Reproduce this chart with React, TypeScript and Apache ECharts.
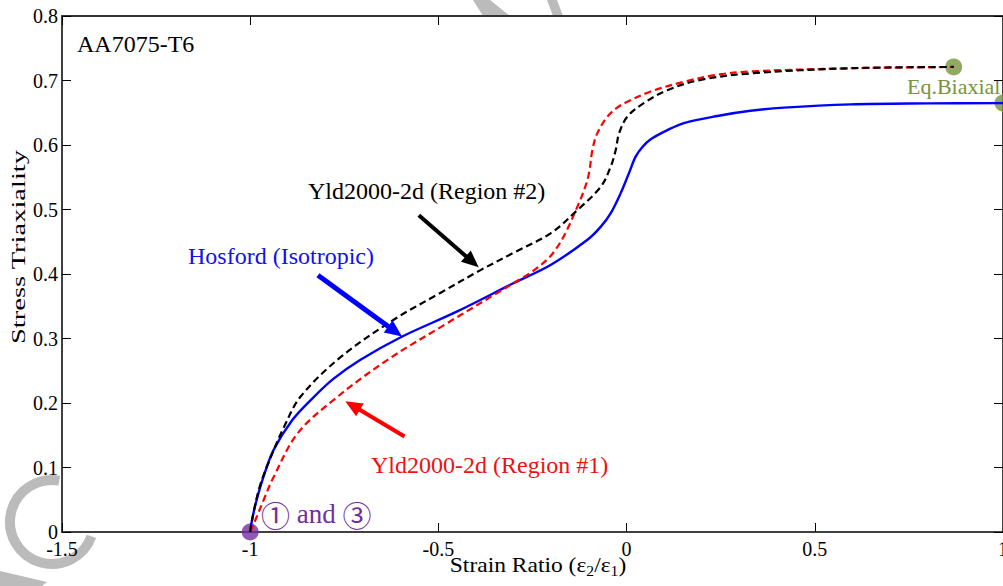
import React, { useEffect, useRef } from "react";
import * as echarts from "echarts";

const xTicks = { min: -1.5, max: 1, interval: 0.5 };
const yTicks = { min: 0, max: 0.8, interval: 0.1 };

const hosfordX = [-1, -0.995, -0.985, -0.965, -0.938, -0.89, -0.84, -0.78, -0.707, -0.6, -0.45, -0.3, -0.202, -0.104, -0.069, -0.0425, -0.016, 0.006, 0.024, 0.042, 0.064, 0.108, 0.152, 0.241, 0.329, 0.418, 0.595, 0.8, 1.0];
const hosfordY = [0, 0.019, 0.045, 0.085, 0.127, 0.172, 0.204, 0.237, 0.267, 0.302, 0.342, 0.386, 0.414, 0.453, 0.473, 0.494, 0.525, 0.556, 0.582, 0.597, 0.609, 0.623, 0.634, 0.645, 0.653, 0.658, 0.663, 0.6645, 0.665];

const region2X = [-1, -0.995, -0.975, -0.946, -0.91, -0.866, -0.76, -0.619, -0.494, -0.388, -0.3, -0.202, -0.131, -0.069, -0.0425, -0.029, -0.02, 0.002, 0.046, 0.108, 0.197, 0.329, 0.595, 0.869];
const region2Y = [0, 0.019, 0.07, 0.115, 0.163, 0.21, 0.271, 0.329, 0.371, 0.406, 0.433, 0.463, 0.499, 0.535, 0.566, 0.592, 0.618, 0.644, 0.665, 0.685, 0.701, 0.711, 0.719, 0.721];

const region1X = [-1, -0.986, -0.964, -0.938, -0.874, -0.778, -0.635, -0.476, -0.3, -0.255, -0.21, -0.186, -0.162, -0.131, -0.113, -0.1, -0.091, -0.078, -0.051, -0.025, 0.002, 0.064, 0.152, 0.241, 0.329, 0.595, 0.869];
const region1Y = [0, 0.019, 0.05, 0.085, 0.153, 0.205, 0.267, 0.324, 0.386, 0.402, 0.423, 0.44, 0.464, 0.504, 0.53, 0.556, 0.592, 0.618, 0.644, 0.658, 0.667, 0.683, 0.698, 0.709, 0.714, 0.719, 0.721];

const startPoint = [-1, 0];
const biaxialPoints = [
  [0.869, 0.721],
  [1.0, 0.665],
];

const FONT = "'Liberation Serif', 'Times New Roman', serif";

const zip = (xs: number[], ys: number[]) => xs.map((x, i) => [x, ys[i]]);

export default function App() {
  const ref = useRef<HTMLDivElement>(null);
  useEffect(() => {
    if (!ref.current) return;
    const chart = echarts.init(ref.current, null, { renderer: "svg" });
    const axisLine = { show: true, onZero: false, lineStyle: { color: "#000", width: 1.5 } };
    const topLine = { show: true, onZero: false, lineStyle: { color: "#333", width: 2 } };
    const tick = { show: true, inside: true, length: 9, lineStyle: { color: "#000", width: 1 } };
    const gray = "#BBBBBB";
    const arrowLine = (color: string, width: number, from: number[], to: number[]) => ({
      silent: true,
      symbol: ["none", "triangle"],
      symbolSize: [15, 17],
      label: { show: false },
      emphasis: { disabled: true },
      lineStyle: { color, width, type: "solid" },
      data: [[{ coord: from }, { coord: to }]],
    });
    chart.setOption({
      animation: false,
      backgroundColor: "#fff",
      grid: { left: 62, right: 0, top: 16, bottom: 54, containLabel: false, outerBoundsMode: "none" },
      xAxis: [
        {
          type: "value",
          ...xTicks,
          position: "bottom",
          axisLine,
          axisTick: tick,
          splitLine: { show: false },
          axisLabel: { color: "#000", fontFamily: FONT, fontSize: 20, margin: 7 },
        },
        {
          type: "value",
          ...xTicks,
          position: "top",
          axisLine: topLine,
          axisTick: tick,
          splitLine: { show: false },
          axisLabel: { show: false },
        },
      ],
      yAxis: [
        {
          type: "value",
          ...yTicks,
          position: "left",
          axisLine,
          axisTick: tick,
          splitLine: { show: false },
          axisLabel: { color: "#000", fontFamily: FONT, fontSize: 20, margin: 4 },
        },
        {
          type: "value",
          ...yTicks,
          position: "right",
          axisLine,
          axisTick: tick,
          splitLine: { show: false },
          axisLabel: { show: false },
        },
      ],
      series: [
        {
          name: "Hosford (Isotropic)",
          type: "line",
          data: zip(hosfordX, hosfordY),
          smooth: 0.35,
          showSymbol: false,
          lineStyle: { color: "#0000FF", width: 2.4 },
          markLine: arrowLine("#0000FF", 5, [-0.82, 0.398], [-0.615, 0.311]),
        },
        {
          name: "Yld2000-2d (Region #1)",
          type: "line",
          data: zip(region1X, region1Y),
          smooth: 0.35,
          showSymbol: false,
          lineStyle: { color: "#FF0000", width: 2.2, type: [7, 4] },
          markLine: arrowLine("#FF0000", 4, [-0.59, 0.148], [-0.728, 0.196]),
        },
        {
          name: "Yld2000-2d (Region #2)",
          type: "line",
          data: zip(region2X, region2Y),
          smooth: 0.35,
          showSymbol: false,
          lineStyle: { color: "#000000", width: 2.2, type: [7, 4] },
          markLine: arrowLine("#000000", 4, [-0.552, 0.491], [-0.41, 0.419]),
        },
        {
          name: "start",
          type: "scatter",
          data: [startPoint],
          symbolSize: 17,
          clip: false,
          itemStyle: { color: "#7030A0" },
        },
        {
          name: "biaxial",
          type: "scatter",
          data: biaxialPoints,
          symbolSize: 17,
          clip: false,
          itemStyle: { color: "#77933C" },
        },
      ],
      graphic: [
        {
          type: "arc",
          z: -1,
          shape: { cx: 52, cy: 522, r: 42, startAngle: (20 * Math.PI) / 180, endAngle: (280 * Math.PI) / 180 },
          style: { stroke: gray, lineWidth: 10, fill: "none" },
        },
        {
          type: "polygon",
          z: -1,
          shape: { points: [[0, 571], [47, 582], [42, 586], [0, 586]] },
          style: { fill: gray },
        },
        {
          type: "polygon",
          z: -1,
          shape: { points: [[473, 0], [490, 0], [510, 16], [483, 16]] },
          style: { fill: gray },
        },
        {
          type: "polygon",
          z: -1,
          shape: { points: [[547, 0], [557, 0], [563, 16], [553, 16]] },
          style: { fill: gray },
        },
        {
          type: "text",
          x: 18,
          y: 247,
          rotation: Math.PI / 2,
          scaleX: 1.5,
          style: { text: "Stress Triaxiality", fontFamily: FONT, fontSize: 19, fill: "#000", align: "center", verticalAlign: "middle" },
        },
        {
          type: "text",
          x: 538,
          y: 565,
          scaleX: 1.12,
          style: {
            text: "{a|Strain Ratio (ε}{s|2}{a|/ε}{s|1}{a|)}",
            align: "center",
            verticalAlign: "middle",
            rich: {
              a: { fontFamily: FONT, fontSize: 21, fill: "#000" },
              s: { fontFamily: FONT, fontSize: 14, fill: "#000", padding: [12, 0, 0, 0] },
            },
          },
        },
        {
          type: "text",
          x: 77,
          y: 44,
          style: { text: "AA7075-T6", fontFamily: FONT, fontSize: 24, fill: "#000", verticalAlign: "middle" },
        },
        {
          type: "text",
          x: 308,
          y: 191,
          style: { text: "Yld2000-2d (Region #2)", fontFamily: FONT, fontSize: 24, fill: "#000", verticalAlign: "middle" },
        },
        {
          type: "text",
          x: 188,
          y: 256,
          style: { text: "Hosford (Isotropic)", fontFamily: FONT, fontSize: 24, fill: "#1010F0", verticalAlign: "middle" },
        },
        {
          type: "text",
          x: 371,
          y: 465,
          style: { text: "Yld2000-2d (Region #1)", fontFamily: FONT, fontSize: 24, fill: "#EE1111", verticalAlign: "middle" },
        },
        {
          type: "text",
          x: 907,
          y: 86,
          style: { text: "Eq.Biaxial", fontFamily: FONT, fontSize: 22, fill: "#77933C", verticalAlign: "middle" },
        },
        {
          type: "text",
          x: 261,
          y: 514,
          style: {
            text: "{c|①}{a| and }{c|③}",
            verticalAlign: "middle",
            rich: {
              c: { fontFamily: "'Noto Sans CJK JP', 'DejaVu Sans', sans-serif", fontSize: 29, fill: "#7030A0" },
              a: { fontFamily: FONT, fontSize: 27, fill: "#7030A0" },
            },
          },
        },
      ],
    });
    return () => chart.dispose();
  }, []);
  return <div ref={ref} style={{ width: 1003, height: 586, position: "absolute", left: 0, top: 0 }} />;
}
